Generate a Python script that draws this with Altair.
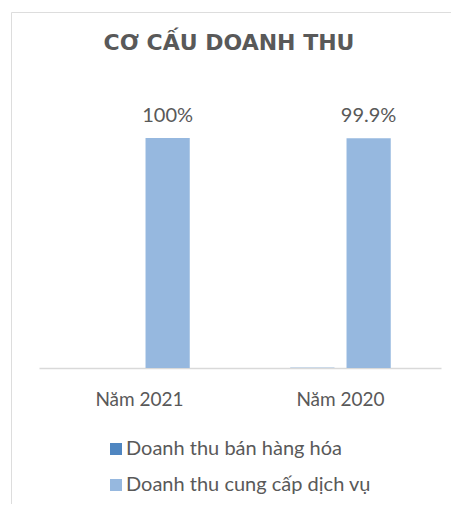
import altair as alt
import pandas as pd

categories = ["Năm 2021", "Năm 2020"]
series = ["Doanh thu bán hàng hóa", "Doanh thu cung cấp dịch vụ"]
ban_hang_hoa = [0.0, 0.1]
cung_cap_dich_vu = [100.0, 99.9]
label_ban_hang = ["", ""]
label_dich_vu = ["100%", "99.9%"]
colors = ["#4f86c1", "#96b8df"]

rows = []
for i, c in enumerate(categories):
    rows.append({"cat": c, "series": series[0], "value": ban_hang_hoa[i], "label": label_ban_hang[i]})
    rows.append({"cat": c, "series": series[1], "value": cung_cap_dich_vu[i], "label": label_dich_vu[i]})
df = pd.DataFrame(rows)

FONT = "Lato"
TXT = "#595959"

x = alt.X(
    "cat:N",
    sort=categories,
    scale=alt.Scale(range=[28, 430], paddingInner=0.5, paddingOuter=0.25),
    axis=alt.Axis(
        title=None,
        orient="bottom",
        offset=-156,
        ticks=False,
        tickSize=0,
        grid=False,
        domainColor="#d9d9d9",
        domainWidth=1.5,
        labelFont=FONT,
        labelFontSize=19,
        labelColor=TXT,
        labelBaseline="alphabetic",
        labelPadding=37,
        labelAngle=0,
    ),
)
xo = alt.XOffset(
    "series:N",
    sort=series,
    scale=alt.Scale(paddingInner=0.214, paddingOuter=0),
)
y = alt.Y(
    "value:Q",
    scale=alt.Scale(domain=[0, 100], range=[356, 126], nice=False, zero=True),
    axis=None,
)

bars = alt.Chart(df).mark_bar().encode(
    x=x,
    xOffset=xo,
    y=y,
    color=alt.Color(
        "series:N",
        sort=series,
        scale=alt.Scale(domain=series, range=colors),
        legend=alt.Legend(
            title=None,
            orient="none",
            legendX=95,
            legendY=427,
            direction="vertical",
            symbolType="square",
            symbolSize=144,
            symbolStrokeWidth=0,
            labelFont=FONT,
            labelFontSize=20,
            labelColor=TXT,
            labelOffset=0,
            rowPadding=16,
            labelLimit=400,
        ),
    ),
)

labels = alt.Chart(df).transform_filter(alt.datum.label != "").mark_text(
    font=FONT, fontSize=20, color=TXT, baseline="alphabetic", align="center", dy=-16
).encode(
    x=x,
    xOffset=xo,
    y=y,
    text="label:N",
)

chart = alt.layer(bars, labels).properties(
    width=460,
    height=512,
    autosize=alt.AutoSizeParams(type="none"),
    padding={"left": 3, "top": 4, "right": -20, "bottom": -20},
    title=alt.Title(
        "CƠ CẤU DOANH THU",
        font="DejaVu Sans",
        fontSize=22,
        fontWeight="bold",
        color=TXT,
        anchor="middle",
        baseline="alphabetic",
        offset=-39,
        dx=-12,
        dy=21,
    ),
).configure_view(stroke="#d9d9d9", strokeWidth=1.5).configure(background="white")

chart.save("out.html", embed_options={"renderer": "svg", "actions": False})
